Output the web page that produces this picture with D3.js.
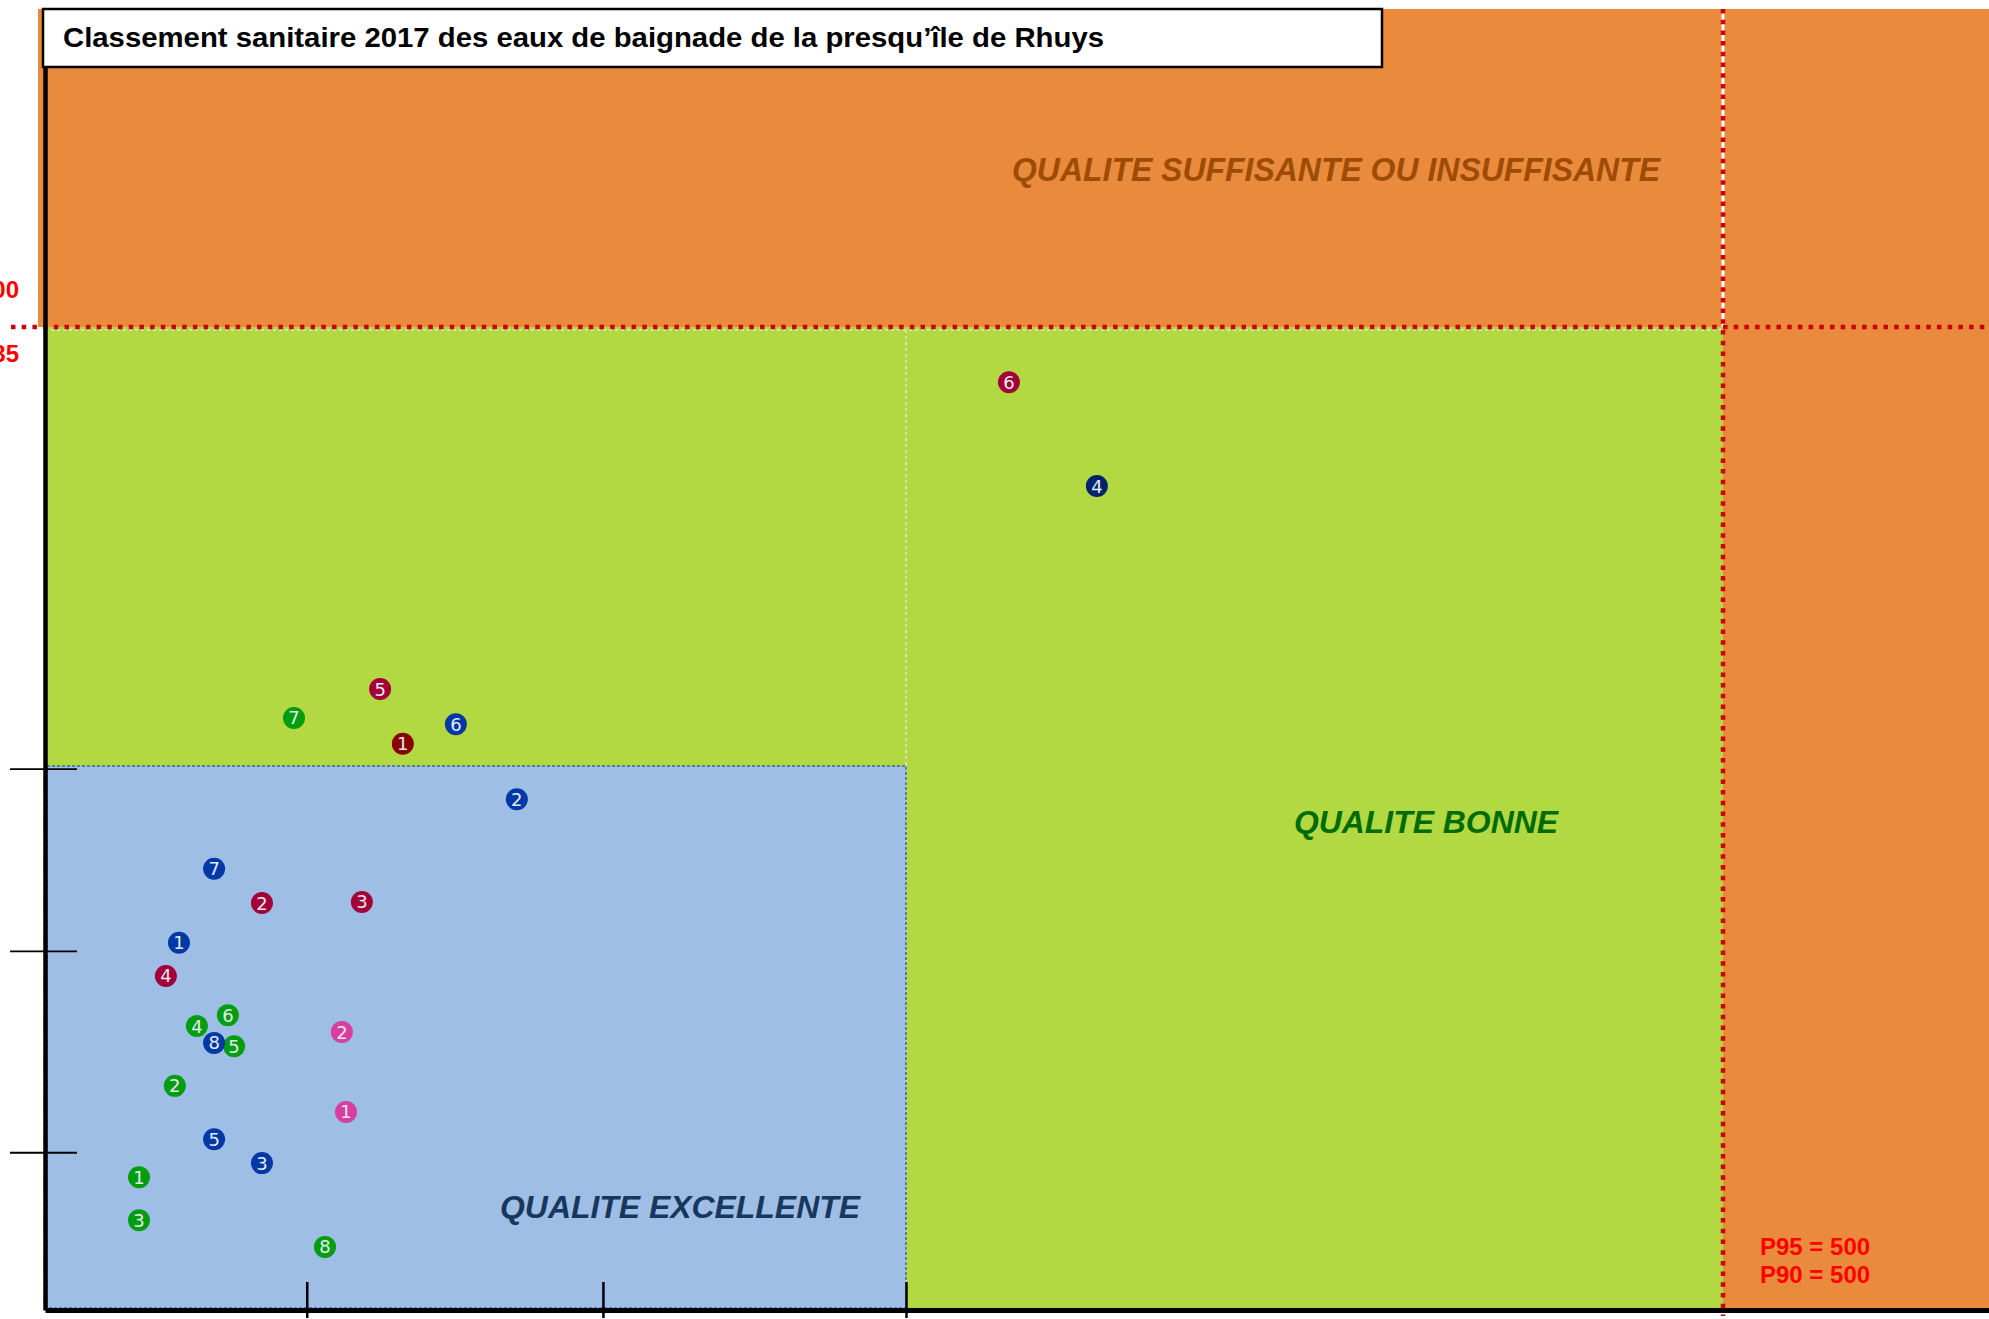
<!DOCTYPE html>
<html>
<head>
<meta charset="utf-8">
<script src="https://cdn.jsdelivr.net/npm/d3@7"></script>
<style>
  body { margin: 0; background: #fff; }
  svg { display: block; }
</style>
</head>
<body>
<div id="chart"></div>
<script>
// seuils (E. coli en x, entérocoques en y)
const xDomain = [0, 250, 500, 600];
const yDomain = [0, 100, 185, 250];
const xTicks = [76, 162, 250];
const yTicks = [29, 66, 99.5];

// plages : numéro de plage, x, y
const vert = [
  [1, 27.3, 24.4], [2, 37.7, 41.2], [3, 27.3, 16.5], [4, 44.1, 52.2],
  [5, 54.9, 48.5], [6, 53.1, 54.2], [7, 72.3, 109.3], [8, 81.3, 11.6]
];
const bleu = [
  [1, 38.9, 67.5], [2, 137.0, 93.9], [3, 63.0, 27.0], [5, 49.1, 31.4],
  [6, 119.3, 108.1], [7, 49.1, 81.1], [8, 49.1, 49.1]
];
const bleuFonce = [[4, 308.4, 154.2]];
const bordeaux = [
  [2, 63.0, 74.8], [3, 92.0, 75.0], [4, 35.1, 61.4], [5, 97.3, 114.9],
  [6, 281.5, 174.3]
];
const rougeFonce = [[1, 103.9, 104.3]];
const rose = [[1, 87.4, 36.4], [2, 86.2, 51.1]];

const series = [
  { name: "vert", color: "#009e0f", values: vert },
  { name: "bleu", color: "#0038a6", values: bleu },
  { name: "bleuFonce", color: "#00236b", values: bleuFonce },
  { name: "bordeaux", color: "#a3003a", values: bordeaux },
  { name: "rougeFonce", color: "#8a0000", values: rougeFonce },
  { name: "rose", color: "#d83da0", values: rose }
];

const title = "Classement sanitaire 2017 des eaux de baignade de la presqu\u2019\u00eele de Rhuys";

const W = 1989, H = 1319;
const svg = d3.select("#chart").append("svg")
  .attr("width", W).attr("height", H);

const x = d3.scaleLinear().domain(xDomain).range([45, 906, 1723, 1989]);
const y = d3.scaleLinear().domain(yDomain).range([1310, 766, 327, 9]);

const orange = "#e98a3c", green = "#b3d942", blue = "#9ebee5";

// zones
svg.append("rect")
  .attr("x", x(0) - 7).attr("y", y(250))
  .attr("width", W - x(0) + 7).attr("height", y(185) - y(250))
  .attr("fill", orange);
svg.append("rect")
  .attr("x", x(500)).attr("y", y(185))
  .attr("width", W - x(500)).attr("height", y(0) - y(185))
  .attr("fill", orange);
svg.append("rect")
  .attr("x", x(0)).attr("y", y(185))
  .attr("width", x(500) - x(0)).attr("height", y(0) - y(185))
  .attr("fill", green);
svg.append("line")
  .attr("x1", x(250)).attr("x2", x(250))
  .attr("y1", y(185) + 3).attr("y2", y(0))
  .attr("stroke", "#d4e2b4").attr("stroke-width", 2)
  .attr("stroke-dasharray", "3,3");
svg.append("line")
  .attr("x1", x(0)).attr("x2", x(500))
  .attr("y1", y(185) + 3).attr("y2", y(185) + 3)
  .attr("stroke", "#d4e2b4").attr("stroke-width", 2)
  .attr("stroke-dasharray", "3,3");
svg.append("rect")
  .attr("x", x(0) + 2).attr("y", y(100))
  .attr("width", x(250) - x(0) - 2).attr("height", y(0) - y(100) - 2)
  .attr("fill", blue)
  .attr("stroke", "#3f6598").attr("stroke-width", 1.5)
  .attr("stroke-dasharray", "3,2");

// seuils en pointillés rouges
svg.append("line")
  .attr("x1", x(500)).attr("x2", x(500))
  .attr("y1", y(250)).attr("y2", y(185))
  .attr("stroke", "#fff").attr("stroke-width", 3);
svg.append("line")
  .attr("x1", 11).attr("x2", W)
  .attr("y1", y(185)).attr("y2", y(185))
  .attr("stroke", "#cc0000").attr("stroke-width", 4.5)
  .attr("stroke-dasharray", "4.5,6.2");
svg.append("line")
  .attr("x1", x(500)).attr("x2", x(500))
  .attr("y1", y(250)).attr("y2", y(0) + 6)
  .attr("stroke", "#cc0000").attr("stroke-width", 4.5)
  .attr("stroke-dasharray", "4.5,6.2");

// libellés des zones
svg.append("text")
  .attr("x", 1012).attr("y", 181)
  .attr("textLength", 648).attr("lengthAdjust", "spacingAndGlyphs")
  .style("font", "italic bold 34px 'Liberation Sans', Arial, sans-serif")
  .attr("fill", "#9e4b05")
  .text("QUALITE SUFFISANTE OU INSUFFISANTE");
svg.append("text")
  .attr("x", 1294).attr("y", 833)
  .attr("textLength", 264).attr("lengthAdjust", "spacingAndGlyphs")
  .style("font", "italic bold 32px 'Liberation Sans', Arial, sans-serif")
  .attr("fill", "#006b00")
  .text("QUALITE BONNE");
svg.append("text")
  .attr("x", 500).attr("y", 1218)
  .attr("textLength", 360).attr("lengthAdjust", "spacingAndGlyphs")
  .style("font", "italic bold 32px 'Liberation Sans', Arial, sans-serif")
  .attr("fill", "#17375e")
  .text("QUALITE EXCELLENTE");

// valeurs seuils (coupées au bord gauche comme dans l'original)
const redFont = "bold 24px 'Liberation Sans', Arial, sans-serif";
svg.append("text").attr("x", 19).attr("y", 298).attr("text-anchor", "end")
  .style("font", redFont).attr("fill", "#ff0000").text("P95 = 200");
svg.append("text").attr("x", 19).attr("y", 362).attr("text-anchor", "end")
  .style("font", redFont).attr("fill", "#ff0000").text("P90 = 185");
svg.append("text").attr("x", 1760).attr("y", 1255)
  .style("font", redFont).attr("fill", "#ff0000").text("P95 = 500");
svg.append("text").attr("x", 1760).attr("y", 1283)
  .style("font", redFont).attr("fill", "#ff0000").text("P90 = 500");

// axes
const yAxis = svg.append("g")
  .attr("transform", `translate(${x(0)},0)`)
  .call(d3.axisLeft(y).tickValues(yTicks).tickFormat("").tickSizeInner(35).tickSizeOuter(0));
yAxis.select(".domain").attr("stroke", "#000").attr("stroke-width", 4.5);
yAxis.selectAll(".tick line").attr("x1", 32).attr("stroke-width", 1.8);

const xAxis = svg.append("g")
  .attr("transform", `translate(0,${y(0)})`)
  .call(d3.axisBottom(x).tickValues(xTicks).tickFormat("").tickSizeInner(8).tickSizeOuter(0));
xAxis.select(".domain").attr("stroke", "#000").attr("stroke-width", 5);
xAxis.selectAll(".tick line").attr("y1", -28).attr("stroke-width", 2.5);

// titre
svg.append("rect")
  .attr("x", 43).attr("y", 9).attr("width", 1339).attr("height", 58)
  .attr("fill", "#fff").attr("stroke", "#000").attr("stroke-width", 2.5);
svg.append("text")
  .attr("x", 63).attr("y", 47)
  .attr("textLength", 1041).attr("lengthAdjust", "spacingAndGlyphs")
  .style("font", "bold 28px 'Liberation Sans', Arial, sans-serif")
  .attr("fill", "#000")
  .text(title);

// points numérotés
const groups = svg.selectAll(".serie")
  .data(series)
  .enter().append("g")
  .attr("class", "serie");

const pts = groups.selectAll(".pt")
  .data(d => d.values.map(v => ({ n: v[0], x: v[1], y: v[2], color: d.color })))
  .enter().append("g")
  .attr("class", "pt")
  .attr("transform", d => `translate(${x(d.x)},${y(d.y)})`);

pts.append("circle")
  .attr("r", 11)
  .attr("fill", d => d.color);

pts.append("text")
  .attr("text-anchor", "middle")
  .attr("dy", "0.36em")
  .style("font", "18px 'DejaVu Sans', Verdana, sans-serif")
  .attr("fill", "#e4ecef")
  .text(d => d.n);
</script>
</body>
</html>
